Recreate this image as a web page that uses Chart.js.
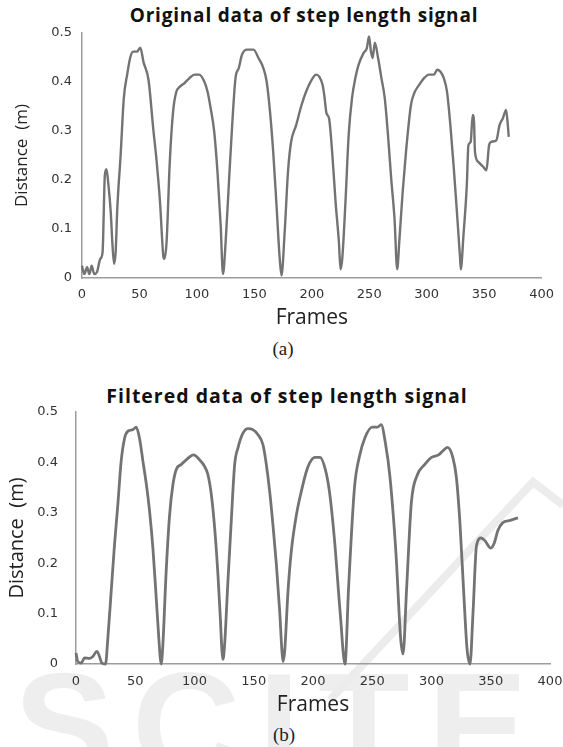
<!DOCTYPE html>
<html>
<head>
<meta charset="utf-8">
<script src="https://cdn.jsdelivr.net/npm/chart.js@4.4.0/dist/chart.umd.min.js"></script>
<style>
  html, body { margin: 0; padding: 0; background: #fff; }
  body { width: 563px; height: 747px; position: relative; overflow: hidden; }
  .box { position: absolute; }
  .title { position: absolute; font-family: "Open Sans", sans-serif; font-weight: bold; color: #111; white-space: nowrap; transform: translate(-50%, -50%); }
  .caption { position: absolute; font-family: "Liberation Serif", serif; font-size: 19px; color: #222; transform: translate(-50%, -50%); }
  .wm { position: absolute; left: 14px; top: 640px; font-family: "Liberation Sans", sans-serif; font-weight: bold; font-size: 150px; letter-spacing: 18px; color: #eeeeee; white-space: nowrap; }
  .logo { position: absolute; left: 0; top: 0; }
</style>
</head>
<body>
<div class="wm">SCITE</div>
<svg class="logo" width="563" height="747"><polyline points="330,700 533,482 563,505" fill="none" stroke="#ececec" stroke-width="8"/></svg>

<div class="title" style="left:304px; top:15px; font-size:19px; letter-spacing:0.8px;">Original data of step length signal</div>
<div class="box" style="left:0; top:0;"><canvas id="chartA" width="563" height="333"></canvas></div>
<div class="caption" style="left:283px; top:349px;">(a)</div>

<div class="title" style="left:287px; top:395px; font-size:19.5px; letter-spacing:1px;">Filtered data of step length signal</div>
<div class="box" style="left:0; top:372px;"><canvas id="chartB" width="600" height="347"></canvas></div>
<div class="caption" style="left:284px; top:735px;">(b)</div>

<script>
// (a) original signal
const framesA = [0, 2, 4.4, 6.4, 8.4, 10.7, 13, 15.9, 17.9, 19.9,
  21.3, 23, 25, 26.4, 27.9, 29.3, 30.7, 33.6, 36.4, 39.3,
  42, 44.4, 47.9, 50.7, 53.6, 57.9, 62, 65, 67.9, 70.7,
  71.6, 73.6, 76.4, 79.3, 82.1, 85, 89.3, 93.6, 97.9, 102,
  106.4, 109.3, 112, 115, 117.9, 120.7, 122.7, 125, 127.9, 130.7,
  133.6, 136.4, 139.3, 143.6, 149.3, 153.6, 157.9, 160.7, 163.6, 166.4,
  169.3, 172.1, 173.6, 176.4, 179.3, 182, 186.4, 190.7, 195, 200.8,
  203.7, 206.5, 209.4, 210.8, 212.8, 215, 217.9, 220.7, 223.6, 225,
  226.5, 229.3, 232.1, 235, 237.9, 240.7, 245, 247.9, 249.8, 251.5,
  252.9, 254.9, 257.7, 260.6, 263.5, 266.3, 269.1, 272, 274.3, 276.3,
  279.1, 282, 286.3, 289.1, 293.4, 297.7, 302, 306.3, 309.1, 312,
  314.9, 317.7, 320.6, 323.4, 326.3, 329.1, 329.7, 332, 334.9, 336.3,
  338.3, 340, 341.2, 342, 344.9, 349.2, 352, 354.3, 356.3, 360.6,
  363.4, 366.3, 369.1, 370.6, 371.4];
const distA = [0.025, 0.008, 0.022, 0.008, 0.025, 0.008, 0.012, 0.039, 0.053, 0.21,
  0.222, 0.19, 0.135, 0.073, 0.029, 0.053, 0.141, 0.25, 0.367, 0.415,
  0.45, 0.462, 0.462, 0.47, 0.44, 0.404, 0.305, 0.237, 0.155, 0.046,
  0.039, 0.073, 0.237, 0.34, 0.38, 0.39, 0.398, 0.408, 0.415, 0.415,
  0.401, 0.38, 0.346, 0.3, 0.217, 0.107, 0.008, 0.073, 0.196, 0.312,
  0.408, 0.428, 0.456, 0.466, 0.466, 0.449, 0.428, 0.401, 0.34, 0.258,
  0.148, 0.039, 0.005, 0.094, 0.217, 0.278, 0.312, 0.35, 0.38, 0.408,
  0.415, 0.411, 0.394, 0.374, 0.336, 0.326, 0.251, 0.155, 0.073, 0.018,
  0.039, 0.155, 0.292, 0.367, 0.408, 0.435, 0.459, 0.469, 0.493, 0.462,
  0.449, 0.48, 0.449, 0.408, 0.367, 0.292, 0.203, 0.121, 0.018, 0.08,
  0.176, 0.258, 0.353, 0.377, 0.394, 0.408, 0.415, 0.415, 0.425, 0.421,
  0.408, 0.38, 0.312, 0.23, 0.135, 0.039, 0.018, 0.087, 0.189, 0.271,
  0.278, 0.333, 0.319, 0.258, 0.237, 0.227, 0.22, 0.271, 0.278, 0.281,
  0.312, 0.326, 0.343, 0.312, 0.288];

// (b) filtered signal
const framesB = [0, 1.5, 4.4, 7.2, 11.4, 14.2, 17.6, 19.8, 21.8, 24.9,
  26.9, 29.7, 32.5, 35.3, 38.1, 41, 43.8, 48, 50.8, 53.6,
  56.5, 59.8, 62.1, 64.9, 67.7, 69.7, 71.1, 71.9, 73.3, 76.1,
  79, 81.8, 84.6, 88.8, 93, 99.2, 104.3, 108.5, 111.3, 114.2,
  117, 119.8, 121.8, 123.2, 124, 125.4, 128.2, 131, 133.9, 136.7,
  140.9, 145.1, 149.3, 153.6, 157.8, 160.6, 163.4, 166.2, 169.1, 171.9,
  173.8, 174.7, 176.1, 178.9, 181.7, 186, 190.2, 194.4, 197.2,
  201.5, 206, 210.5, 214, 218, 223, 227, 230, 235, 239,
  244, 250, 254.5, 257.5, 261, 265, 270, 274, 276, 279,
  283, 288, 294, 300, 306, 310.5, 313.5, 318, 321, 324,
  327, 330, 332.5, 335, 338, 342, 345, 350, 353, 356,
  360, 366.5, 373];
const distB = [0.022, 0.005, 0.002, 0.012, 0.011, 0.015, 0.025, 0.015, 0.002, 0,
  0.052, 0.144, 0.237, 0.316, 0.402, 0.448, 0.462, 0.465, 0.47, 0.448,
  0.402, 0.349, 0.303, 0.23, 0.131, 0.058, 0.012, 0, 0.038, 0.184,
  0.296, 0.356, 0.386, 0.396, 0.405, 0.415, 0.405, 0.392, 0.376, 0.336,
  0.27, 0.177, 0.091, 0.025, 0.009, 0.038, 0.164, 0.283, 0.396, 0.429,
  0.458, 0.467, 0.465, 0.455, 0.435, 0.396, 0.343, 0.276, 0.197, 0.104,
  0.025, 0.005, 0.025, 0.144, 0.224, 0.296, 0.343, 0.382, 0.399,
  0.41, 0.41, 0.385, 0.34, 0.25, 0.1, 0, 0.15, 0.35, 0.41,
  0.45, 0.47, 0.47, 0.475, 0.44, 0.37, 0.22, 0.05, 0.02, 0.15,
  0.32, 0.375, 0.395, 0.41, 0.415, 0.425, 0.43, 0.41, 0.37, 0.28,
  0.15, 0.03, 0, 0.1, 0.235, 0.25, 0.245, 0.23, 0.24, 0.265,
  0.28, 0.285, 0.29];

const xTicks = [0, 50, 100, 150, 200, 250, 300, 350, 400];
const yTicks = [0, 0.1, 0.2, 0.3, 0.4, 0.5];
const xTitle = 'Frames';
const yTitle = 'Distance  (m)';

Chart.defaults.font.family = 'DejaVu Sans';

function toPoints(xs, ys) {
  return xs.map(function(x, i) { return { x: x, y: ys[i] }; });
}

function drawSignal(id, frames, values, o) {
  const ctx = document.getElementById(id).getContext('2d');
  return new Chart(ctx, {
    type: 'line',
    data: {
      datasets: [{
        data: toPoints(frames, values),
        borderColor: '#737373',
        borderWidth: o.lineWidth,
        pointRadius: 0,
        cubicInterpolationMode: 'monotone',
        clip: 6
      }]
    },
    options: {
      responsive: false,
      animation: false,
      layout: { padding: o.padding },
      plugins: { legend: { display: false }, tooltip: { enabled: false } },
      scales: {
        x: {
          type: 'linear',
          min: xTicks[0],
          max: xTicks[xTicks.length - 1],
          afterBuildTicks: function(scale) { scale.ticks = xTicks.map(function(v) { return { value: v }; }); },
          afterFit: function(scale) { scale.height = o.xHeight; },
          grid: { display: false, drawTicks: false },
          border: { color: '#9c9c9c', width: 1.5 },
          ticks: { padding: o.xPad, maxRotation: 0, autoSkip: false, color: '#333', font: { size: 13 } },
          title: { display: true, text: xTitle, color: '#222', padding: 0, font: { family: 'Open Sans', size: 21 } }
        },
        y: {
          min: yTicks[0],
          max: yTicks[yTicks.length - 1],
          afterBuildTicks: function(scale) { scale.ticks = yTicks.map(function(v) { return { value: v }; }); },
          afterFit: function(scale) { scale.width = o.yWidth; },
          grid: { display: false, drawTicks: false },
          border: { color: '#9c9c9c', width: 1.5 },
          ticks: {
            padding: o.yPad,
            color: '#333',
            font: { size: 13 },
            callback: function(v) { return v === 0 ? '0' : v.toFixed(1); }
          },
          title: { display: true, text: yTitle, color: '#222', padding: 0, font: { family: 'Open Sans', size: o.yTitleSize } }
        }
      }
    }
  });
}

drawSignal('chartA', framesA, distA, {
  padding: { top: 33, right: 14, bottom: 2, left: 12 },
  xHeight: 53, yWidth: 70, xPad: 9, yPad: 10, lineWidth: 2.4, yTitleSize: 17
});

drawSignal('chartB', framesB, distB, {
  padding: { top: 40, right: 50, bottom: 1, left: 5 },
  xHeight: 54, yWidth: 71, xPad: 10, yPad: 18, lineWidth: 2.8, yTitleSize: 20
});
</script>
</body>
</html>
